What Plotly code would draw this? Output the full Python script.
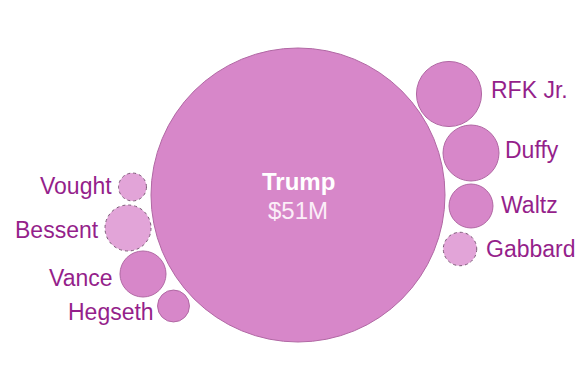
import math
import plotly.graph_objects as go

# Data (spending, $M)
names = ["Trump", "RFK Jr.", "Duffy", "Waltz", "Gabbard", "Vought", "Bessent", "Vance", "Hegseth"]
values = [51, 2.5, 1.85, 1.14, 0.66, 0.46, 1.25, 1.25, 0.60]
dashed = [False, False, False, False, True, True, True, False, False]

# Layout of the packed circles (centres in chart units = page pixels)
cx = [298, 449, 471, 471, 460, 132.5, 128, 143, 173.5]
cy = [195, 94, 153, 206, 249, 187, 228, 274, 306]
# label placement: side and anchor point
label_side = [None, "right", "right", "right", "right", "left", "left", "left", "left"]
label_x = [None, 489, 503, 499, 484, 114, 101, 115, 156]
label_y = [None, 90, 150, 205, 249, 186, 230, 278, 312]

K = 147 / math.sqrt(values[0])
FONT = "Liberation Sans, Arial, sans-serif"

fig = go.Figure()
shapes = []
for i, (n, v) in enumerate(zip(names, values)):
    r = K * math.sqrt(v)
    if dashed[i]:
        fill = "#e2a4d8"
        line = dict(color="#7d5a78", width=1, dash="dot")
    else:
        fill = "#d787c9"
        line = dict(color="#b168a4", width=1)
    shapes.append(dict(type="circle", xref="x", yref="y",
                       x0=cx[i] - r, x1=cx[i] + r, y0=cy[i] - r, y1=cy[i] + r,
                       fillcolor=fill, line=line, layer="below"))

annotations = []
for i, n in enumerate(names):
    if label_side[i] is None:
        continue
    annotations.append(dict(x=label_x[i], y=label_y[i], xref="x", yref="y",
                            text=n, showarrow=False,
                            xanchor="left" if label_side[i] == "right" else "right",
                            yanchor="middle",
                            font=dict(family=FONT, size=23, color="#951f8b")))

annotations.append(dict(x=cx[0], y=181, xref="x", yref="y", text="<b>Trump</b>", showarrow=False,
                        xanchor="center", yanchor="middle",
                        font=dict(family=FONT, size=24, color="#ffffff")))
annotations.append(dict(x=cx[0], y=210, xref="x", yref="y", text="$%dM" % values[0], showarrow=False,
                        xanchor="center", yanchor="middle",
                        font=dict(family=FONT, size=24, color="#fbeef8")))

fig.add_trace(go.Scatter(x=cx, y=cy, mode="markers", marker=dict(size=1, opacity=0),
                         hoverinfo="skip", showlegend=False))

# the page body has an 8px margin, so the figure covers page pixels 8..588 / 8..392
fig.update_layout(
    width=580, height=384,
    margin=dict(l=0, r=0, t=0, b=0),
    paper_bgcolor="white", plot_bgcolor="white",
    shapes=shapes, annotations=annotations,
    xaxis=dict(range=[8, 588], visible=False, fixedrange=True),
    yaxis=dict(range=[392, 8], visible=False, fixedrange=True),
    showlegend=False,
)

fig.write_html("out.html")
